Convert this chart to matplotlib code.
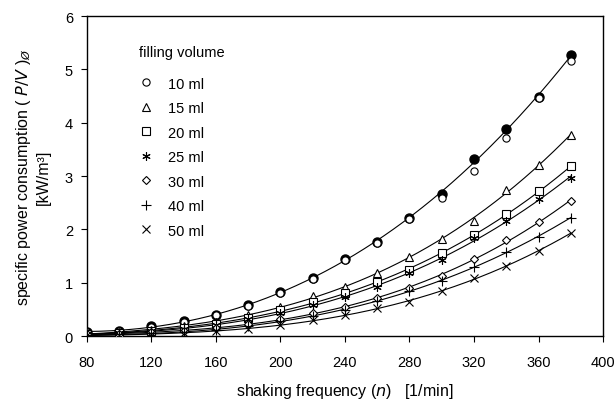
import numpy as np
import matplotlib
matplotlib.use("Agg")
import matplotlib.pyplot as plt

plt.rcParams['font.family'] = ['Liberation Sans', 'DejaVu Sans']

freq = [80, 100, 120, 140, 160, 180, 200, 220, 240, 260, 280, 300, 320, 340, 360, 380]

ml10_filled = [0.08, 0.10, 0.18, 0.28, 0.40, 0.58, 0.82, 1.08, 1.44, 1.77, 2.22, 2.67, 3.32, 3.88, 4.48, 5.26]
ml10 = [0.07, 0.09, 0.17, 0.27, 0.39, 0.56, 0.80, 1.06, 1.42, 1.75, 2.20, 2.59, 3.09, 3.71, 4.46, 5.16]
ml15 = [0.05, 0.07, 0.12, 0.18, 0.27, 0.40, 0.55, 0.75, 0.92, 1.19, 1.48, 1.81, 2.15, 2.74, 3.21, 3.77]
ml20 = [0.04, 0.06, 0.10, 0.15, 0.23, 0.34, 0.48, 0.64, 0.80, 1.02, 1.24, 1.55, 1.89, 2.29, 2.71, 3.18]
ml25 = [0.04, 0.05, 0.09, 0.14, 0.21, 0.31, 0.44, 0.58, 0.74, 0.91, 1.18, 1.42, 1.84, 2.15, 2.57, 2.97]
ml30 = [0.03, 0.04, 0.07, 0.10, 0.15, 0.22, 0.32, 0.43, 0.55, 0.71, 0.90, 1.13, 1.44, 1.80, 2.14, 2.53]
ml40 = [0.02, 0.03, 0.05, 0.08, 0.12, 0.19, 0.28, 0.38, 0.49, 0.65, 0.84, 1.04, 1.30, 1.58, 1.86, 2.22]
ml50 = [0.01, 0.02, 0.03, 0.06, 0.09, 0.14, 0.21, 0.30, 0.39, 0.52, 0.63, 0.84, 1.09, 1.32, 1.59, 1.93]

labels = ["10 ml", "15 ml", "20 ml", "25 ml", "30 ml", "40 ml", "50 ml"]
markers = ["o", "^", "s", "*6", "D", "+", "x"]

x_ticks = [80, 120, 160, 200, 240, 280, 320, 360, 400]
y_ticks = [0, 1, 2, 3, 4, 5, 6]

fig = plt.figure(figsize=(6.16, 4.10), dpi=100)
ax = fig.add_axes([0.141, 0.178, 0.838, 0.7805])

x = np.array(freq, dtype=float)
xs = np.linspace(80, 380, 200)

# fitted curves
ax.plot(xs, np.polyval(np.polyfit(x, ml10_filled, 3), xs), color='black', lw=0.8, zorder=2)
series = [ml15, ml20, ml25, ml30, ml40, ml50]
for s in series:
    ax.plot(xs, np.polyval(np.polyfit(x, s, 3), xs), color='black', lw=0.8, zorder=2)

ax.plot(x, ml10_filled, 'o', ms=6.5, color='black', zorder=3)

all_series = [ml10, ml15, ml20, ml25, ml30, ml40, ml50]
sizes = [5.2, 6, 5.5, 6, 4.3, 6.5, 6]
for s, lab, m, msz in zip(all_series, labels, markers, sizes):
    if m == "*6":
        ax.plot(x, s, linestyle='none', marker=(6, 2, 0), ms=msz, color='black',
                mew=0.8, label=lab, zorder=4)
    elif m in ("x", "+"):
        ax.plot(x, s, linestyle='none', marker=m, ms=msz, color='black', mew=0.8,
                label=lab, zorder=4)
    else:
        ax.plot(x, s, linestyle='none', marker=m, ms=msz, mfc='white', mec='black',
                mew=0.8, label=lab, zorder=4)

ax.set_xlim(80, 400)
ax.set_ylim(0, 6)
ax.set_xticks(x_ticks)
ax.set_yticks(y_ticks)
ax.tick_params(axis='both', direction='out', length=4, width=0.8, labelsize=10.5)
ax.tick_params(axis='x', pad=10)
ax.tick_params(axis='y', pad=6)
for sp in ax.spines.values():
    sp.set_linewidth(1.0)

ax.set_xlabel("shaking frequency ($\\it{n}$)   [1/min]", fontsize=11.5, labelpad=8)
ax.set_ylabel("specific power consumption ( $\\it{P/V}$ )$_{\\O}$\n[kW/m³]", fontsize=11.5, labelpad=10)

leg = ax.legend(loc='upper left', bbox_to_anchor=(0.075, 0.95), frameon=False,
                title="filling volume", fontsize=10.5, title_fontsize=10.5,
                labelspacing=0.72, handlelength=1.0, handletextpad=1.0,
                alignment='left')
leg._legend_box.sep = 12.5

fig.savefig("out.png", dpi=100)
